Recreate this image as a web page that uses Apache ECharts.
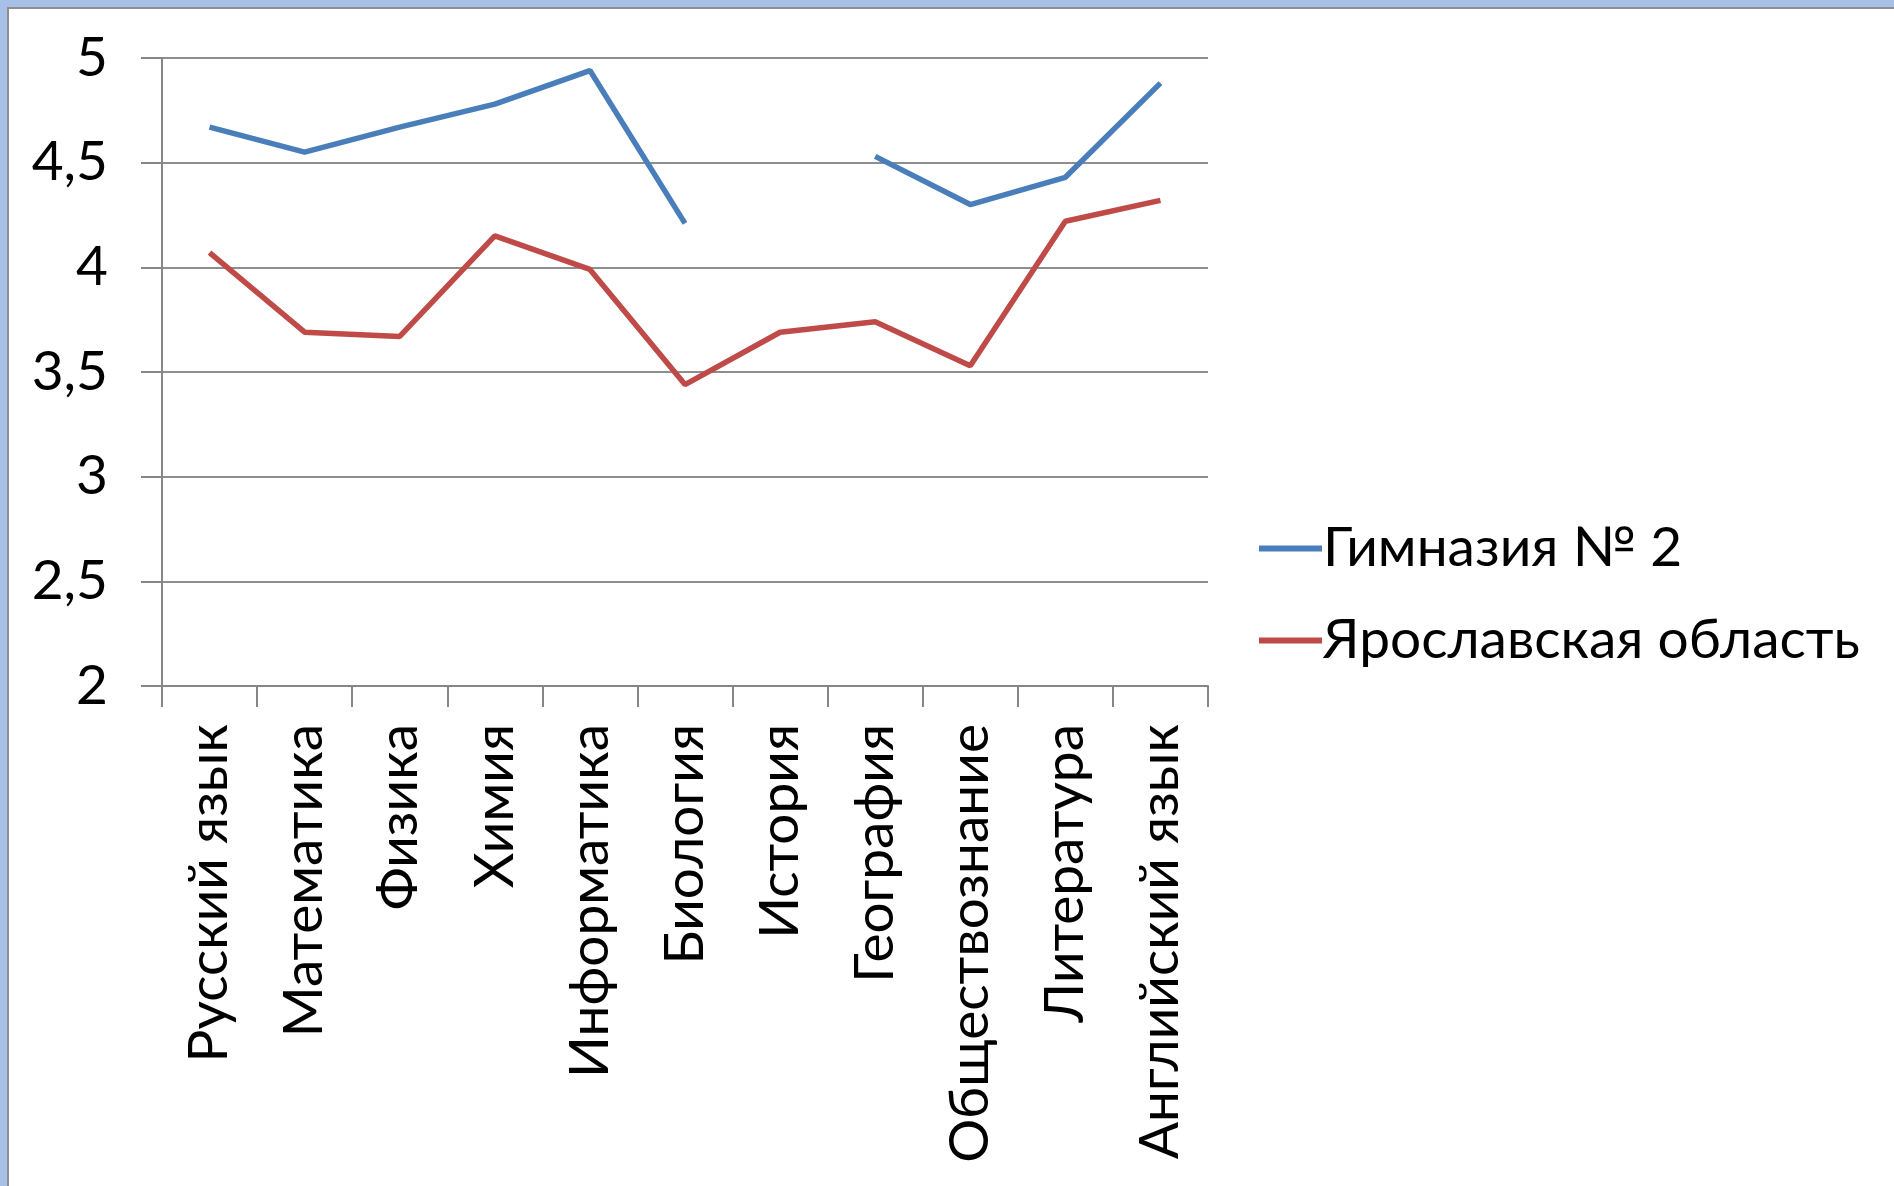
<!DOCTYPE html>
<html><head><meta charset="utf-8">
<script src="https://cdn.jsdelivr.net/npm/echarts@6/dist/echarts.min.js"></script>
<style>html,body{margin:0;padding:0;background:#fff;}#c{width:1894px;height:1186px;}</style>
</head><body><div id="c"></div>
<script>
const categories = ['Русский язык','Математика','Физика','Химия','Информатика','Биология','История','География','Обществознание','Литература','Английский язык'];
const gymnasium = [4.67, 4.55, 4.67, 4.78, 4.94, 4.21, null, 4.53, 4.30, 4.43, 4.88];
const region = [4.07, 3.69, 3.67, 4.15, 3.99, 3.44, 3.69, 3.74, 3.53, 4.22, 4.32];
const seriesNames = ['Гимназия № 2', 'Ярославская область'];
const yTicks = {min: 2, max: 5, interval: 0.5};

const FONT = 'Lato';
const FS = 55;
const chart = echarts.init(document.getElementById('c'));
chart.setOption({
  backgroundColor: '#fff',
  animation: false,
  textStyle: {fontFamily: FONT, color: '#000'},
  graphic: [
    {type: 'rect', shape: {x: 0, y: 0, width: 1894, height: 7}, style: {fill: '#A8C0E8'}, silent: true},
    {type: 'rect', shape: {x: 0, y: 0, width: 7, height: 1186}, style: {fill: '#A8C0E8'}, silent: true},
    {type: 'rect', shape: {x: 7, y: 7, width: 1887, height: 2}, style: {fill: '#8E8E8E'}, silent: true},
    {type: 'rect', shape: {x: 7, y: 7, width: 2, height: 1179}, style: {fill: '#8E8E8E'}, silent: true}
  ],
  legend: {
    orient: 'vertical', left: 1254, top: 516, itemGap: 37, itemWidth: 63, itemHeight: 6,
    textStyle: {fontFamily: FONT, fontSize: FS, color: '#000', padding: [0, 0, 0, -4]},
    data: seriesNames.map(n => ({name: n, icon: 'path://M0,0H63V6H0Z'}))
  },
  grid: {left: 162, top: 58, right: 686, bottom: 500, containLabel: false},
  xAxis: {
    type: 'category', data: categories, boundaryGap: true,
    axisLine: {lineStyle: {color: '#868686', width: 2}},
    axisTick: {show: true, length: 21, lineStyle: {color: '#868686', width: 2}, alignWithLabel: false},
    axisLabel: {rotate: 90, margin: 38, fontSize: FS, color: '#000', fontFamily: FONT, interval: 0}
  },
  yAxis: {
    type: 'value', min: yTicks.min, max: yTicks.max, interval: yTicks.interval,
    axisLine: {show: true, lineStyle: {color: '#868686', width: 2}},
    axisTick: {show: true, length: 21, lineStyle: {color: '#868686', width: 2}},
    splitLine: {lineStyle: {color: '#8E8E8E', width: 2}},
    axisLabel: {margin: 54, fontSize: FS, color: '#000', fontFamily: FONT,
      formatter: v => String(v).replace('.', ',')}
  },
  series: [
    {name: seriesNames[0], type: 'line', data: gymnasium, connectNulls: false, symbol: 'none',
      lineStyle: {color: '#4A7EBB', width: 5.5}, itemStyle: {color: '#4A7EBB'}},
    {name: seriesNames[1], type: 'line', data: region, symbol: 'none',
      lineStyle: {color: '#BE4B48', width: 5.5}, itemStyle: {color: '#BE4B48'}}
  ]
});
</script></body></html>
